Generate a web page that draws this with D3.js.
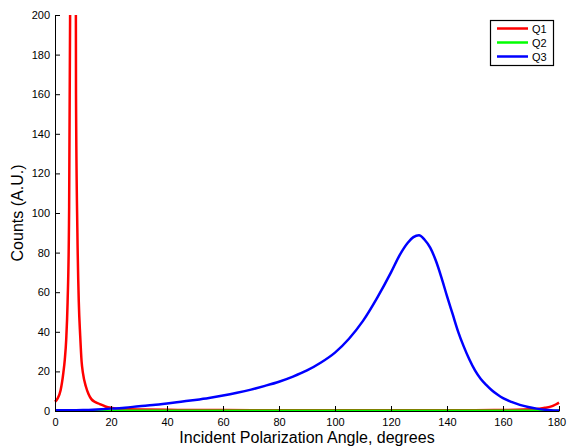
<!DOCTYPE html>
<html>
<head>
<meta charset="utf-8">
<script src="https://cdn.jsdelivr.net/npm/d3@7/dist/d3.min.js"></script>
<style>
  html, body { margin: 0; padding: 0; background: #fff; }
  svg { display: block; }
  text { font-family: "Liberation Sans", Arial, Helvetica, sans-serif; fill: #000; }
</style>
</head>
<body>
<svg id="chart" width="567" height="446"></svg>
<script>
// ---- Data ----
const seriesNames = ["Q1", "Q2", "Q3"];
const seriesColors = ["#ff0000", "#00ff00", "#0000ff"];

const q1Angles = [0, 1, 2, 3, 3.5, 4, 4.5, 5, 5.5, 6, 6.5, 7, 7.5, 8, 8.5, 9, 9.5, 10, 11, 12, 13, 14, 16, 18, 20, 22, 25, 30, 40, 50, 60, 80, 100, 120, 140, 150, 160, 165, 170, 173, 175, 177, 178, 179, 180];
const q1Counts = [4.7, 6.5, 10.5, 19.5, 26, 36, 55, 95, 230, 800, 1900, 600, 160, 90, 55, 38, 25, 19, 12.5, 8.5, 6, 4.8, 3.5, 2.3, 1.6, 1.2, 1.0, 0.8, 0.6, 0.5, 0.45, 0.4, 0.35, 0.35, 0.35, 0.4, 0.5, 0.6, 0.9, 1.2, 1.6, 2.2, 2.7, 3.4, 4.2];

const q2Angles = [0, 20, 40, 60, 80, 100, 120, 140, 160, 180];
const q2Counts = [0.1, 0.1, 0.1, 0.1, 0.1, 0.1, 0.1, 0.1, 0.1, 0.1];

const q3Angles = [0, 5, 10, 15, 20, 25, 30, 35, 40, 45, 50, 55, 60, 65, 70, 75, 80, 85, 90, 95, 100, 105, 110, 115, 120, 123, 126, 128, 130, 132, 134, 136, 138, 140, 142, 144, 146, 148, 150, 152, 154, 156, 158, 160, 163, 166, 169, 172, 175, 178, 180];
const q3Counts = [0.4, 0.4, 0.5, 0.8, 1.2, 1.7, 2.4, 3.0, 3.8, 4.7, 5.6, 6.6, 7.8, 9.2, 10.8, 12.7, 14.8, 17.4, 20.5, 24.5, 29.5, 36.5, 45.5, 57, 70, 78.5, 85, 87.8, 88.8, 86.5, 82.5, 76, 67.5, 58, 49, 40, 32.5, 26, 20.5, 16.3, 13.2, 10.5, 8.3, 6.5, 4.6, 3.1, 2.0, 1.2, 0.6, 0.3, 0.2];

const xTicks = [0, 20, 40, 60, 80, 100, 120, 140, 160, 180];
const yTicks = [0, 20, 40, 60, 80, 100, 120, 140, 160, 180, 200];

const xLabel = "Incident Polarization Angle, degrees";
const yLabel = "Counts (A.U.)";

// ---- Layout ----
const mLeft = 55, mRight = 559, mTop = 15, mBottom = 411;
const svg = d3.select("#chart");

const x = d3.scaleLinear().domain([0, 180]).range([mLeft, mRight]);
const y = d3.scaleLinear().domain([0, 200]).range([mBottom, mTop]);

const series = [
  { name: seriesNames[0], color: seriesColors[0], xs: q1Angles, ys: q1Counts },
  { name: seriesNames[1], color: seriesColors[1], xs: q2Angles, ys: q2Counts },
  { name: seriesNames[2], color: seriesColors[2], xs: q3Angles, ys: q3Counts }
];

svg.append("defs").append("clipPath").attr("id", "plotclip")
  .append("rect").attr("x", mLeft - 3).attr("y", mTop).attr("width", mRight - mLeft + 6).attr("height", mBottom - mTop + 4);

const line = d3.line().curve(d3.curveMonotoneX).x(d => x(d[0])).y(d => y(d[1]));

const g = svg.append("g").attr("clip-path", "url(#plotclip)");
series.forEach(s => {
  const pts = s.xs.map((v, i) => [v, s.ys[i]]);
  g.append("path").datum(pts)
    .attr("d", line)
    .attr("fill", "none")
    .attr("stroke", s.color)
    .attr("stroke-width", 2.5)
    .attr("stroke-linejoin", "round");
});

// ---- Axes (ticks pointing inward) ----
const xAxis = d3.axisBottom(x).tickValues(xTicks).tickSizeInner(-5).tickSizeOuter(0).tickPadding(7).tickFormat(d3.format("d"));
const yAxis = d3.axisLeft(y).tickValues(yTicks).tickSizeInner(-5).tickSizeOuter(0).tickPadding(5).tickFormat(d3.format("d"));

const gx = svg.append("g").attr("transform", `translate(0,${mBottom})`).call(xAxis);
const gy = svg.append("g").attr("transform", `translate(${mLeft},0)`).call(yAxis);
[gx, gy].forEach(a => {
  a.select(".domain").attr("stroke", "#000").attr("stroke-width", 1);
  a.selectAll(".tick line").attr("stroke", "#000").attr("stroke-width", 1);
  a.selectAll(".tick text").attr("font-size", 11).attr("font-family", "Liberation Sans, Arial, sans-serif").attr("fill", "#000");
});
// keep the last x label inside the window
gx.selectAll(".tick text").filter(d => d === xTicks[xTicks.length - 1]).attr("dx", -2.5);

// ---- Axis titles ----
svg.append("text").attr("x", (mLeft + mRight) / 2).attr("y", 443)
  .attr("text-anchor", "middle").attr("font-size", 16).text(xLabel);
svg.append("text").attr("transform", `translate(23,${(mTop + mBottom) / 2}) rotate(-90)`)
  .attr("text-anchor", "middle").attr("font-size", 16).text(yLabel);

// ---- Legend ----
const lg = svg.append("g");
lg.append("rect").attr("x", 490.5).attr("y", 20.5).attr("width", 63).attr("height", 45)
  .attr("fill", "#fff").attr("stroke", "#000").attr("stroke-width", 1.2);
series.forEach((s, i) => {
  const yy = 28.5 + i * 14;
  lg.append("line").attr("x1", 497).attr("x2", 528).attr("y1", yy).attr("y2", yy)
    .attr("stroke", s.color).attr("stroke-width", 2.5);
  lg.append("text").attr("x", 532).attr("y", yy + 4).attr("font-size", 11).text(s.name);
});
</script>
</body>
</html>
